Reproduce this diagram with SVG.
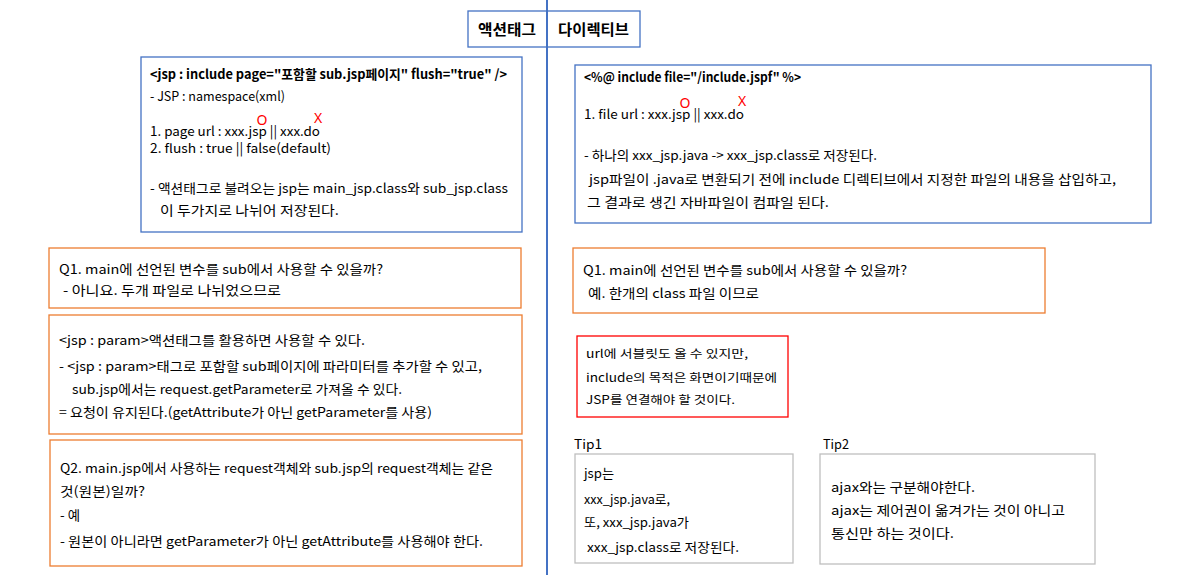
<svg xmlns="http://www.w3.org/2000/svg" width="1204" height="579" viewBox="0 0 1204 579">
<style>
text{font-family:"Noto Sans CJK KR","Noto Sans",sans-serif;font-size:13px;fill:#000;}
.b{font-weight:bold;}
.s{font-size:11.5px;}
.h{font-size:15px;font-weight:bold;}
.ox{font-size:14px;fill:#FF0000;font-family:"Noto Sans","Noto Sans CJK KR",sans-serif;}
.blue{fill:#fff;stroke:#4472C4;stroke-width:1.3;}
.org{fill:#fff;stroke:#ED7D31;stroke-width:1.3;}
.red{fill:#fff;stroke:#FF0000;stroke-width:1.3;}
.gray{fill:#fff;stroke:#BFBFBF;stroke-width:1.3;}
</style>
<rect width="1204" height="579" fill="#fff"/>
<g id="connectors">
<line x1="547" y1="0" x2="547" y2="575" stroke="#4472C4" stroke-width="2"/>
</g>
<g id="header">
<rect class="blue" x="468" y="11" width="172" height="36" style="fill:none"/>
<text class="h" x="478" y="35" textLength="58" lengthAdjust="spacingAndGlyphs">액션태그</text>
<text class="h" x="558" y="35" textLength="71" lengthAdjust="spacingAndGlyphs">다이렉티브</text>
</g>
<g id="action-include">
<rect class="blue" x="141" y="57" width="381" height="175"/>
<text class="b" x="150" y="79" textLength="357" lengthAdjust="spacingAndGlyphs">&lt;jsp : include page="포함할 sub.jsp페이지" flush="true" /&gt;</text>
<text x="150" y="101" textLength="135" lengthAdjust="spacingAndGlyphs">- JSP : namespace(xml)</text>
<text x="150" y="136" textLength="170" lengthAdjust="spacingAndGlyphs">1. page url : xxx.jsp || xxx.do</text>
<text x="150" y="153" textLength="181" lengthAdjust="spacingAndGlyphs">2. flush : true ||  false(default)</text>
<text x="150" y="193" textLength="358" lengthAdjust="spacingAndGlyphs">- 액션태그로 불려오는 jsp는  main_jsp.class와 sub_jsp.class</text>
<text x="160" y="215" textLength="179" lengthAdjust="spacingAndGlyphs">이 두가지로 나뉘어 저장된다.</text>
<text class="ox" x="262" y="125" text-anchor="middle">O</text>
<text class="ox" x="318" y="123" text-anchor="middle">X</text>
</g>
<g id="directive-include">
<rect class="blue" x="575" y="65" width="576" height="158"/>
<text class="b" x="584" y="82" textLength="217" lengthAdjust="spacingAndGlyphs">&lt;%@ include file="/include.jspf" %&gt;</text>
<text x="584" y="119" textLength="160" lengthAdjust="spacingAndGlyphs">1. file url : xxx.jsp || xxx.do</text>
<text x="584" y="160" textLength="293" lengthAdjust="spacingAndGlyphs">- 하나의 xxx_jsp.java -&gt; xxx_jsp.class로 저장된다.</text>
<text x="589" y="184" textLength="527" lengthAdjust="spacingAndGlyphs">jsp파일이 .java로 변환되기 전에 include 디렉티브에서 지정한 파일의 내용을 삽입하고,</text>
<text x="587" y="207" textLength="242" lengthAdjust="spacingAndGlyphs">그 결과로 생긴 자바파일이 컴파일 된다.</text>
<text class="ox" x="685" y="108" text-anchor="middle">O</text>
<text class="ox" x="742" y="106" text-anchor="middle">X</text>
</g>
<g id="action-q1">
<rect class="org" x="49" y="248" width="472" height="60"/>
<text x="59" y="274" textLength="324" lengthAdjust="spacingAndGlyphs">Q1. main에 선언된 변수를 sub에서 사용할 수 있을까?</text>
<text x="63" y="295" textLength="218" lengthAdjust="spacingAndGlyphs">- 아니요. 두개 파일로 나뉘었으므로</text>
</g>
<g id="action-param">
<rect class="org" x="49" y="315" width="473" height="119"/>
<text x="59" y="345" textLength="306" lengthAdjust="spacingAndGlyphs">&lt;jsp : param&gt;액션태그를 활용하면 사용할 수 있다.</text>
<text x="59" y="371" textLength="423" lengthAdjust="spacingAndGlyphs">- &lt;jsp : param&gt;태그로 포함할 sub페이지에 파라미터를 추가할 수 있고,</text>
<text x="72" y="394" textLength="330" lengthAdjust="spacingAndGlyphs">sub.jsp에서는 request.getParameter로 가져올 수 있다.</text>
<text x="59" y="417" textLength="373" lengthAdjust="spacingAndGlyphs">= 요청이 유지된다.(getAttribute가 아닌 getParameter를 사용)</text>
</g>
<g id="action-q2">
<rect class="org" x="50" y="440" width="472" height="126"/>
<text x="60" y="473" textLength="433" lengthAdjust="spacingAndGlyphs">Q2. main.jsp에서 사용하는 request객체와 sub.jsp의 request객체는 같은</text>
<text x="60" y="496" textLength="85" lengthAdjust="spacingAndGlyphs">것(원본)일까?</text>
<text x="60" y="520" textLength="20" lengthAdjust="spacingAndGlyphs">- 예</text>
<text x="60" y="546" textLength="423" lengthAdjust="spacingAndGlyphs">- 원본이 아니라면 getParameter가 아닌 getAttribute를 사용해야 한다.</text>
</g>
<g id="directive-q1">
<rect class="org" x="573" y="248" width="472" height="65"/>
<text x="583" y="275" textLength="324" lengthAdjust="spacingAndGlyphs">Q1. main에 선언된 변수를 sub에서 사용할 수 있을까?</text>
<text x="588" y="298" textLength="171" lengthAdjust="spacingAndGlyphs">예. 한개의 class 파일 이므로</text>
</g>
<g id="servlet-note">
<rect class="red" x="577" y="336" width="211" height="81"/>
<text class="s" x="586" y="358" textLength="162" lengthAdjust="spacingAndGlyphs">url에 서블릿도 올 수 있지만,</text>
<text class="s" x="586" y="382" textLength="191" lengthAdjust="spacingAndGlyphs">include의 목적은 화면이기때문에</text>
<text class="s" x="586" y="404" textLength="149" lengthAdjust="spacingAndGlyphs">JSP를 연결해야 할 것이다.</text>
</g>
<g id="tip1">
<text x="574" y="449" textLength="28" lengthAdjust="spacingAndGlyphs">Tip1</text>
<rect class="gray" x="575" y="454" width="218" height="109"/>
<text x="584" y="478" textLength="30" lengthAdjust="spacingAndGlyphs">jsp는</text>
<text x="584" y="504" textLength="86" lengthAdjust="spacingAndGlyphs">xxx_jsp.java로,</text>
<text x="584" y="527" textLength="105" lengthAdjust="spacingAndGlyphs">또, xxx_jsp.java가</text>
<text x="587" y="552" textLength="152" lengthAdjust="spacingAndGlyphs">xxx_jsp.class로 저장된다.</text>
</g>
<g id="tip2">
<text x="823" y="449" textLength="26" lengthAdjust="spacingAndGlyphs">Tip2</text>
<rect class="gray" x="820" y="454" width="275" height="110"/>
<text x="831" y="492" textLength="144" lengthAdjust="spacingAndGlyphs">ajax와는 구분해야한다.</text>
<text x="831" y="515" textLength="234" lengthAdjust="spacingAndGlyphs">ajax는 제어권이 옮겨가는 것이 아니고</text>
<text x="831" y="538" textLength="123" lengthAdjust="spacingAndGlyphs">통신만 하는 것이다.</text>
</g>
</svg>
